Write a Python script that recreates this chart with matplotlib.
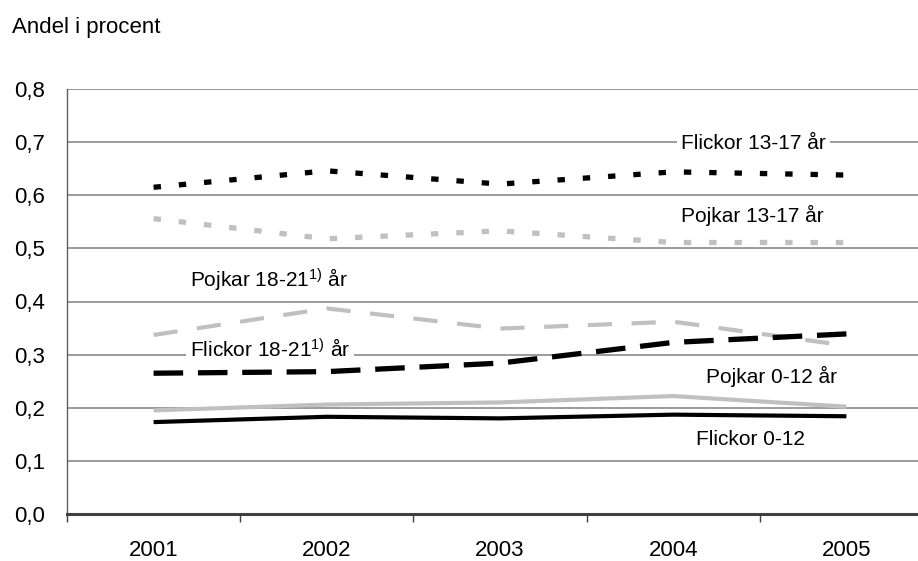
import matplotlib
matplotlib.use("Agg")
import matplotlib.pyplot as plt

plt.rcParams['font.family'] = ['Liberation Sans', 'DejaVu Sans']
plt.rcParams['mathtext.fontset'] = 'custom'
plt.rcParams['mathtext.rm'] = 'Liberation Sans'
plt.rcParams['mathtext.it'] = 'Liberation Sans'

years = ["2001", "2002", "2003", "2004", "2005"]
flickor_13_17 = [0.615, 0.646, 0.621, 0.644, 0.638]
pojkar_13_17 = [0.556, 0.518, 0.533, 0.511, 0.511]
pojkar_18_21 = [0.337, 0.387, 0.349, 0.362, 0.317]
flickor_18_21 = [0.265, 0.268, 0.284, 0.323, 0.339]
pojkar_0_12 = [0.195, 0.206, 0.210, 0.222, 0.202]
flickor_0_12 = [0.173, 0.183, 0.180, 0.187, 0.184]
yticks = [0.0, 0.1, 0.2, 0.3, 0.4, 0.5, 0.6, 0.7, 0.8]
ytick_labels = ["0,0", "0,1", "0,2", "0,3", "0,4", "0,5", "0,6", "0,7", "0,8"]

fig = plt.figure(figsize=(9.18, 5.61), dpi=100)
ax = fig.add_axes([67/918, 47/561, 1 - 67/918, 425/561])
x = list(range(len(years)))

GRAY = '#c0c0c0'
l, = ax.plot(x, flickor_13_17, color='black', lw=3.8, dash_capstyle='butt')
l.set_dashes([1.4, 3.4])
l, = ax.plot(x, pojkar_13_17, color=GRAY, lw=3.8, dash_capstyle='butt')
l.set_dashes([1.4, 3.4])
l, = ax.plot(x, pojkar_18_21, color=GRAY, lw=3.0, dash_capstyle='butt')
l.set_dashes([5.8, 4.7])
l, = ax.plot(x, flickor_18_21, color='black', lw=3.8, dash_capstyle='butt')
l.set_dashes([5.6, 2.8])
ax.plot(x, pojkar_0_12, color=GRAY, lw=3.0, solid_capstyle='butt')
ax.plot(x, flickor_0_12, color='black', lw=3.0, solid_capstyle='butt')

ax.set_xlim(-0.5, -0.5 + (918 - 67) / 173.2)
ax.set_ylim(0, 0.8)
ax.set_yticks(yticks)
ax.set_yticklabels(ytick_labels, fontsize=16)
ax.set_xticks(x)
ax.set_xticklabels(years, fontsize=16)
ax.tick_params(axis='x', length=0, pad=19)
ax.tick_params(axis='y', length=0, pad=16)
ax.set_xticks([i - 0.5 for i in x], minor=True)
ax.tick_params(axis='x', which='minor', length=6, width=1, color='#404040', direction='out')

ax.grid(axis='y', color='#808080', lw=1.1)
ax.set_axisbelow(True)
for s in ['top', 'right']:
    ax.spines[s].set_visible(False)
ax.spines['left'].set_color('#606060')
ax.spines['left'].set_linewidth(1.0)
ax.spines['bottom'].set_color('#404040')
ax.spines['bottom'].set_linewidth(2.2)

fs = 15
ax.text(3.045, 0.697, "Flickor 13-17 år", fontsize=fs, ha='left', va='center',
        bbox=dict(facecolor='white', edgecolor='none', pad=3))
ax.text(3.045, 0.561, "Pojkar 13-17 år", fontsize=fs, ha='left', va='center')
ax.text(0.21, 0.440, r"Pojkar 18-21$^{\mathrm{1)}}$ år", fontsize=fs, ha='left', va='center')
ax.text(0.21, 0.308, r"Flickor 18-21$^{\mathrm{1)}}$ år", fontsize=fs, ha='left', va='center',
        bbox=dict(facecolor='white', edgecolor='none', pad=3))
ax.text(3.19, 0.259, "Pojkar 0-12 år", fontsize=fs, ha='left', va='center')
ax.text(3.13, 0.141, "Flickor 0-12", fontsize=fs, ha='left', va='center')

fig.text(12/918, 1 - 27/561, "Andel i procent", fontsize=16, ha='left', va='center')

fig.savefig("out.png", dpi=100)
